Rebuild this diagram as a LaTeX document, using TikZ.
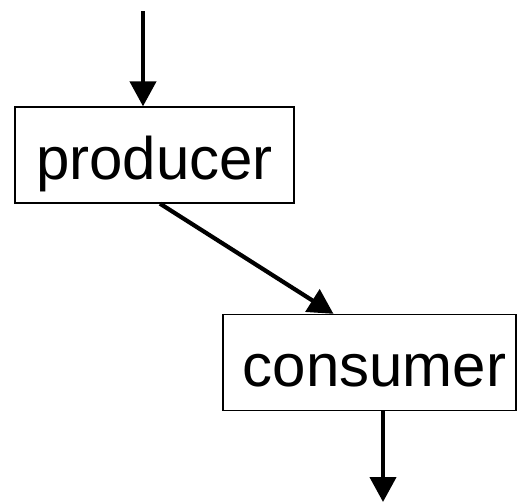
\documentclass[tikz,border=0pt]{standalone}
\usepackage{fontspec}
\setmainfont{Liberation Sans}
\usetikzlibrary{arrows.meta}
\begin{document}
\begin{tikzpicture}[x=0.5pt, y=-0.5pt,
  proc/.style={draw, line width=0.65pt, inner sep=0pt, minimum height=48pt,
    text height=24pt, text depth=0pt, font=\fontsize{30}{34}\selectfont},
  flow/.style={-{Triangle[length=12.5pt,width=13pt]}, line width=2.1pt}]
\useasboundingbox (0,0) rectangle (517,503);
\node[proc, minimum width=139.5pt] (prod) at (154.5,155) {producer};
\node[proc, minimum width=146.5pt] (cons) at (369.5,362.5) {\hspace*{5pt}consumer};
\coordinate (in) at (143,11);
\coordinate (out) at (383,502);
\draw [flow] (in) -- (in |- prod.north);
\draw [flow] ([xshift=2.75pt]prod.south) -- ([xshift=-18pt]cons.north);
\draw [flow] (out |- cons.south) -- (out);
\end{tikzpicture}
\end{document}
